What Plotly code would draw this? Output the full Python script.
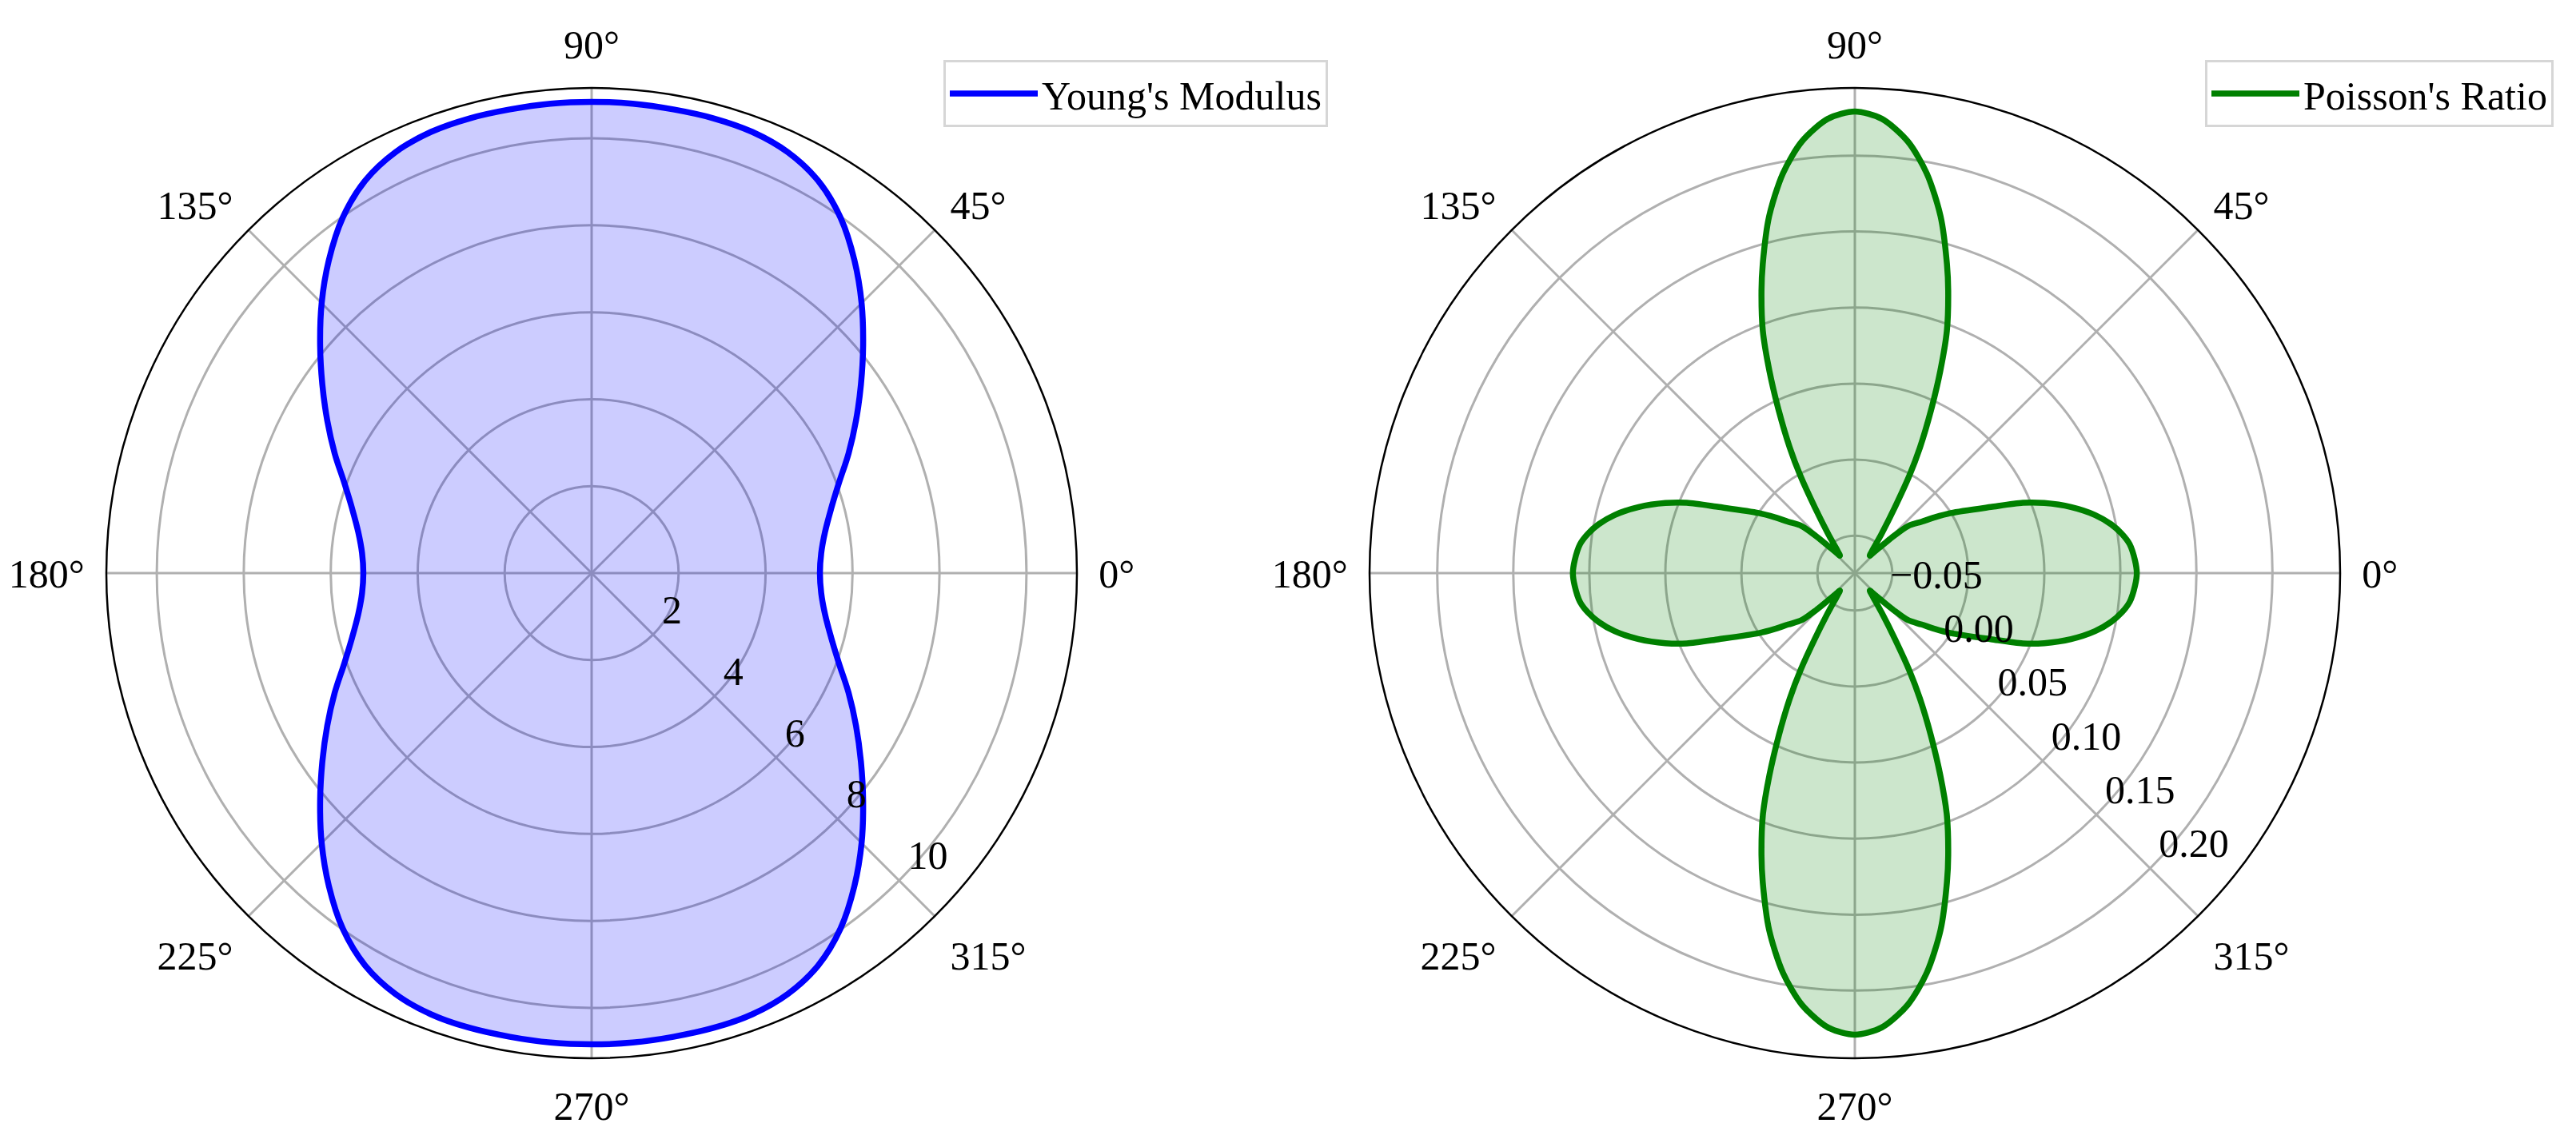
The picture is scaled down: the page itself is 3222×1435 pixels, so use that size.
import plotly.graph_objects as go

# Values, first quadrant only (both curves are
# symmetric about the 0-180 and 90-270 axes)
young_theta = [0, 5, 10, 15, 20, 25, 30, 35, 40, 45, 50, 55, 60, 65, 70, 75, 80, 85, 90]
young_r = [5.25, 5.30, 5.45, 5.70, 6.05, 6.52, 7.02, 7.56, 8.15, 8.78,
           9.40, 9.98, 10.42, 10.68, 10.80, 10.83, 10.83, 10.84, 10.84]

poisson_theta = [0, 2.6, 6.0, 8.4, 10.8, 13.6, 17.0, 20.3, 22.7, 25.9, 32.0, 34.9, 37.6,
                 41.5, 43.5, 47.5, 49.5, 52.0, 53.7, 55.8, 58.7, 60.8, 62.6, 64.9, 67.1,
                 69.2, 71.7, 73.4, 76.5, 79.8, 83.0, 86.6, 90]
poisson_r = [0.1108, 0.1098, 0.1071, 0.1028, 0.0969, 0.0879, 0.0740, 0.0582, 0.0452, 0.0249,
             -0.0001, -0.0104, -0.0192, -0.0278, -0.0383, -0.0560, -0.0595, -0.0565, -0.0524,
             -0.0434, -0.0239, -0.0010, 0.0185, 0.0432, 0.0698, 0.0958, 0.1209, 0.1374,
             0.1668, 0.1925, 0.2114, 0.2247, 0.2290]

angle_ticks = [0, 45, 90, 135, 180, 225, 270, 315]
angle_labels = [f"{a}°" for a in angle_ticks]
young_ticks = [2, 4, 6, 8, 10]
poisson_ticks = [-0.05, 0.00, 0.05, 0.10, 0.15, 0.20]

young_range = [0, 11.16]
poisson_range = [-0.0746, 0.2445]


def full_turn(theta_q, r_q):
    """ Mirror first-quadrant readings round the whole circle. """
    th = (list(theta_q)
          + [180 - t for t in theta_q[::-1][1:]]
          + [180 + t for t in theta_q[1:]]
          + [360 - t for t in theta_q[::-1][1:]])
    r = list(r_q) + list(r_q[::-1][1:]) + list(r_q[1:]) + list(r_q[::-1][1:])
    return th, r


young_th, young_rr = full_turn(young_theta, young_r)
poisson_th, poisson_rr = full_turn(poisson_theta, poisson_r)

FONT = "Liberation Serif"
GRID = "#b0b0b0"

# the page body has an 8px margin, so the figure is 16px smaller than the window
W, H = 3206, 1419
LEFT = dict(x=[125 / W, 1339 / W], y=[1 - 1316 / H, 1 - 102 / H])
RIGHT = dict(x=[1705 / W, 2919 / W], y=[1 - 1316 / H, 1 - 102 / H])
LABEL_PULL = 20  # px, radial labels sit a little inside their ring like matplotlib's

fig = go.Figure()

# fills sit in the subplots with the grid on top, the outlines go in
# transparent subplots stacked over them (grid between fill and line)
fig.add_trace(go.Scatterpolar(theta=young_th, r=young_rr, mode="lines", fill="toself",
                              fillcolor="rgba(0,0,255,0.2)", line=dict(width=0, shape="spline"),
                              showlegend=False, hoverinfo="skip", subplot="polar"))
fig.add_trace(go.Scatterpolar(theta=poisson_th, r=poisson_rr, mode="lines", fill="toself",
                              fillcolor="rgba(0,128,0,0.2)", line=dict(width=0, shape="spline", smoothing=0.8),
                              showlegend=False, hoverinfo="skip", subplot="polar2"))
fig.add_trace(go.Scatterpolar(theta=young_th, r=young_rr, mode="lines", name="Young's Modulus",
                              line=dict(color="blue", width=7.5, shape="spline", smoothing=1),
                              subplot="polar3", legend="legend"))
fig.add_trace(go.Scatterpolar(theta=poisson_th, r=poisson_rr, mode="lines", name="Poisson's Ratio",
                              line=dict(color="green", width=7.5, shape="spline", smoothing=0.8),
                              subplot="polar4", legend="legend2"))


def angular_axis():
    return dict(rotation=0, direction="counterclockwise", tickmode="array",
                tickvals=angle_ticks, ticktext=angle_labels,
                showline=True, linecolor="black", linewidth=2.5,
                showgrid=True, gridcolor=GRID, gridwidth=2.5,
                ticks="outside", ticklen=16, tickcolor="rgba(0,0,0,0)",
                tickfont=dict(size=50, color="black", family=FONT),
                layer="above traces")


def radial_grid(rng, ticks):
    return dict(range=rng, tickmode="array", tickvals=ticks, angle=-45,
                showline=False, ticks="", showticklabels=False,
                showgrid=True, gridcolor=GRID, gridwidth=2.5, layer="above traces")


def overlay(domain, rng, ticks, fmt):
    # top layer: outline plus the radial tick labels (drawn over the line)
    pull = LABEL_PULL * (rng[1] - rng[0]) / 607
    return dict(domain=domain, bgcolor="rgba(0,0,0,0)",
                angularaxis=dict(rotation=0, direction="counterclockwise", visible=False),
                radialaxis=dict(range=rng, tickmode="array",
                                tickvals=[t - pull for t in ticks],
                                ticktext=[format(t, fmt).replace("-", "\u2212") for t in ticks],
                                angle=-45, tickangle=-45, side="counterclockwise",
                                showline=False, showgrid=False, ticks="",
                                tickfont=dict(size=50, color="black", family=FONT),
                                layer="above traces"))


legend_style = dict(xanchor="right", y=1 - 67 / H, yanchor="top", itemwidth=110,
                    bgcolor="white", bordercolor="#d6d6d6", borderwidth=3,
                    font=dict(size=50, family=FONT))

fig.update_layout(
    width=W, height=H,
    margin=dict(l=0, r=0, t=0, b=0),
    paper_bgcolor="white",
    font=dict(family=FONT, size=50, color="black"),
    polar=dict(domain=LEFT, bgcolor="white", angularaxis=angular_axis(),
               radialaxis=radial_grid(young_range, young_ticks)),
    polar2=dict(domain=RIGHT, bgcolor="white", angularaxis=angular_axis(),
                radialaxis=radial_grid(poisson_range, poisson_ticks)),
    polar3=overlay(LEFT, young_range, young_ticks, "g"),
    polar4=overlay(RIGHT, poisson_range, poisson_ticks, ".2f"),
    legend=dict(x=1653 / W, **legend_style),
    legend2=dict(x=3186 / W, **legend_style),
)

fig.write_html("out.html")
